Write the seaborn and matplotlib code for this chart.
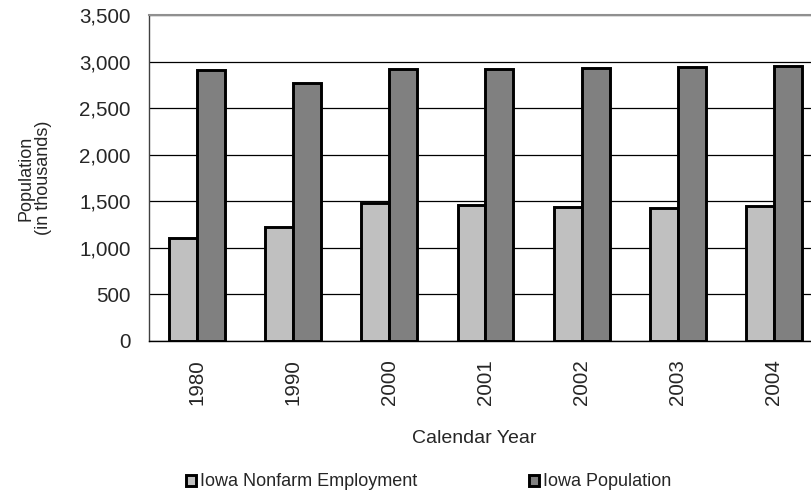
import matplotlib
matplotlib.use('Agg')
import matplotlib.pyplot as plt
import pandas as pd
import seaborn as sns
from matplotlib.ticker import FuncFormatter, FixedLocator

years = ['1980', '1990', '2000', '2001', '2002', '2003', '2004']
nonfarm = [1103, 1221, 1478, 1465, 1442, 1431, 1453]
population = [2910, 2773, 2924, 2917, 2931, 2945, 2956]
series = ['Iowa Nonfarm Employment', 'Iowa Population']

df = pd.DataFrame({
    'year': years * 2,
    'value': nonfarm + population,
    'series': [series[0]] * len(years) + [series[1]] * len(years),
})

sns.set_style('white')
plt.rcParams['font.family'] = ['Liberation Sans', 'DejaVu Sans']
fs = 14.8

fig = plt.figure(figsize=(8.12, 5), dpi=100)
ax = fig.add_axes([149 / 812, 1 - 341 / 500, 673 / 812, 326 / 500])

sns.barplot(data=df, x='year', y='value', hue='series',
            palette=['#c0c0c0', '#808080'], edgecolor='black', linewidth=2.1,
            width=0.58, gap=0, ax=ax)

ax.set_xlim(-0.5, 6.5)
ax.set_ylim(0, 3500)
ax.set_yticks(range(0, 3501, 500))
ax.yaxis.set_major_formatter(FuncFormatter(lambda v, p: f'{int(v):,}'))
ax.set_axisbelow(True)
ax.grid(axis='y', color='black', linewidth=0.9)
ax.grid(axis='x', visible=False)

ax.set_xticks(range(len(years)))
ax.set_xticklabels(years, rotation=90)
ax.xaxis.set_minor_locator(FixedLocator([i - 0.5 for i in range(len(years) + 1)]))
ax.tick_params(axis='x', which='major', length=0, pad=13, labelsize=fs)
ax.tick_params(axis='x', which='minor', length=4.5, width=1, color='black', direction='out')
ax.tick_params(axis='y', length=4, width=1, color='black', direction='out', labelsize=fs, pad=9)

ax.spines['left'].set_color('#404040')
ax.spines['left'].set_linewidth(1)
ax.spines['bottom'].set_color('black')
ax.spines['bottom'].set_linewidth(1)
ax.spines['top'].set_color('#909090')
ax.spines['top'].set_linewidth(1.5)
ax.spines['right'].set_visible(False)

ax.set_xlabel('Calendar Year', fontsize=14, labelpad=18)
ax.xaxis.set_label_coords(0.484, -0.3, transform=ax.transAxes)
ax.xaxis.label.set_verticalalignment('center')
ax.set_ylabel('Population\n(in thousands)', fontsize=13, labelpad=20, linespacing=1.0)

ax.get_legend().remove()
handles, labels = ax.get_legend_handles_labels()
for h, lab, x0 in zip(handles, labels, [186, 529]):
    fig.legend([h], [lab], loc='center left', bbox_to_anchor=(x0 / 812, 1 - 482 / 500),
               frameon=False, fontsize=13, handlelength=0.55, handleheight=0.55,
               handletextpad=0.2, borderaxespad=0, borderpad=0)

fig.savefig('out.png', dpi=100)
